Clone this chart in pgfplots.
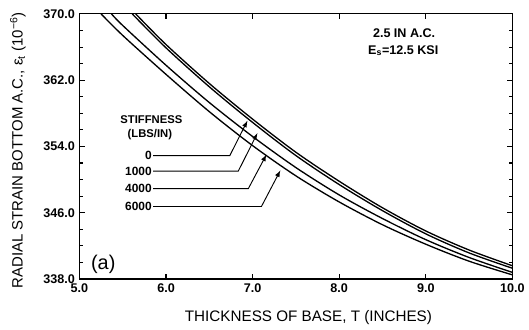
\documentclass[border=0pt]{standalone}
\usepackage{pgfplots}
\pgfplotsset{compat=1.18}
\usepackage{fontspec}
\setmainfont{Liberation Sans}
\begin{document}
\begin{tikzpicture}
\begin{axis}[
  scale only axis,
  width=327pt, height=200.25pt,
  xmin=5, xmax=10, ymin=338, ymax=370,
  xtick={5,6,7,8,9,10},
  ytick={338,346,354,362,370},
  minor ytick={340,342,344,348,350,352,356,358,360,364,366,368},
  tick align=inside,
  major tick length=4pt, minor tick length=2.5pt,
  axis line style={line width=0.9pt},
  every tick/.style={line width=0.8pt, black},
  /pgf/number format/assume math mode=true,
  xticklabel style={font=\fontsize{9.5}{11}\selectfont\bfseries, /pgf/number format/.cd, fixed, fixed zerofill, precision=1},
  yticklabel style={font=\fontsize{9.5}{11}\selectfont\bfseries, /pgf/number format/.cd, fixed, fixed zerofill, precision=1},
  xlabel={THICKNESS OF BASE, T (INCHES)},
  ylabel={RADIAL STRAIN BOTTOM A.C., ε\textsubscript{t} (10\textsuperscript{−6})},
  xlabel style={font=\fontsize{11.5}{13}\selectfont, at={(rel axis cs:0.529,-0.146)}, anchor=center},
  ylabel style={font=\fontsize{11.3}{13}\selectfont, at={(rel axis cs:-0.142,0.485)}, anchor=center},
  clip=true,
]
\addplot[black, line width=1pt, smooth] coordinates {
(5.65,370) (6,366.3) (6.5,361.6) (7,357.3) (7.5,353.3) (8,349.8) (8.5,346.6) (9,343.8) (9.5,341.5) (10,339.6)};
\addplot[black, line width=1pt, smooth] coordinates {
(5.61,370) (6,365.9) (6.5,361.2) (7,356.9) (7.5,352.9) (8,349.4) (8.5,346.25) (9,343.45) (9.5,341.15) (10,339.3)};
\addplot[black, line width=1pt, smooth] coordinates {
(5.37,370) (5.5,368.6) (6,363.8) (6.5,359.3) (7,355.2) (7.5,351.45) (8,348.15) (8.5,345.3) (9,342.75) (9.5,340.6) (10,338.8)};
\addplot[black, line width=1pt, smooth] coordinates {
(5.25,370) (5.5,367.4) (6,362.7) (6.5,358.2) (7,354.1) (7.5,350.45) (8,347.3) (8.5,344.55) (9,342.2) (9.5,340.15) (10,338.5)};
\end{axis}
\begin{axis}[
  scale only axis, width=327pt, height=200.25pt,
  xmin=5, xmax=10, ymin=338, ymax=370,
  axis lines=none, clip=false,
]
\path (rel axis cs:-0.1835,-0.1873) rectangle (rel axis cs:1.0298,1.0524);
\node[font=\fontsize{9.5}{11}\selectfont\bfseries] at (axis cs:8.75,367.72) {2.5 IN A.C.};
\node[font=\fontsize{9.5}{11}\selectfont\bfseries] at (axis cs:8.74,365.57) {E\textsubscript{s}=12.5 KSI};
\node[font=\fontsize{8.5}{10}\selectfont\bfseries] at (axis cs:5.831,357.18) {STIFFNESS};
\node[font=\fontsize{8.5}{10}\selectfont\bfseries] at (axis cs:5.814,355.38) {(LBS/IN)};
\node[font=\fontsize{9}{10}\selectfont\bfseries, anchor=east, inner sep=0.5pt] at (axis cs:5.845,352.9) {0};
\node[font=\fontsize{9}{10}\selectfont\bfseries, anchor=east, inner sep=0.5pt] at (axis cs:5.845,351.03) {1000};
\node[font=\fontsize{9}{10}\selectfont\bfseries, anchor=east, inner sep=0.5pt] at (axis cs:5.845,348.9) {4000};
\node[font=\fontsize{9}{10}\selectfont\bfseries, anchor=east, inner sep=0.5pt] at (axis cs:5.845,346.75) {6000};
\node[font=\fontsize{15}{17}\selectfont] at (axis cs:5.275,339.74) {(a)};
\draw[line width=0.7pt, -latex] (axis cs:5.85,352.9) -- (axis cs:6.737,352.9) -- (axis cs:6.94,357.1);
\draw[line width=0.7pt, -latex] (axis cs:5.85,351.03) -- (axis cs:6.835,351.03) -- (axis cs:7.055,355.6);
\draw[line width=0.7pt, -latex] (axis cs:5.85,348.9) -- (axis cs:6.95,348.9) -- (axis cs:7.159,353.0);
\draw[line width=0.7pt, -latex] (axis cs:5.85,346.75) -- (axis cs:7.102,346.75) -- (axis cs:7.32,351.1);
\end{axis}
\end{tikzpicture}
\end{document}
